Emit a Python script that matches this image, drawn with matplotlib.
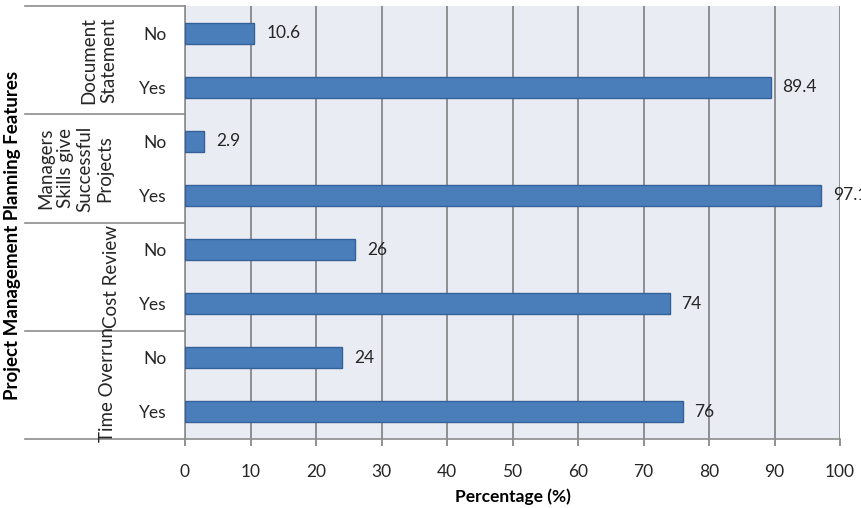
import matplotlib.pyplot as plt
import matplotlib.transforms as mtransforms

plt.rcParams['font.family'] = ['Lato', 'DejaVu Sans']

# data, top to bottom
groups = ['Document\nStatement', 'Managers\nSkills give\nSuccessful\nProjects',
          'Cost Review', 'Time Overrun']
answers = ['No', 'Yes', 'No', 'Yes', 'No', 'Yes', 'No', 'Yes']
values = [10.6, 89.4, 2.9, 97.1, 26, 74, 24, 76]
value_labels = ['10.6', '89.4', '2.9', '97.1', '26', '74', '24', '76']
xticks = [0, 10, 20, 30, 40, 50, 60, 70, 80, 90, 100]

fig = plt.figure(figsize=(8.61, 5.08), dpi=100)
ax = fig.add_axes([185/861, 1 - 439/508, 655/861, 433/508])
ax.set_facecolor('#e9edf3')

ypos = list(range(len(values)))
ax.barh(ypos, values, height=0.39, color='#4a7ebb', edgecolor='#36609a',
        linewidth=1.0, zorder=3)

# value labels (the last one runs off the edge, as in the original)
for y, v, lab in zip(ypos, values, value_labels):
    ax.annotate(lab, (v, y), xytext=(8.5, 0), textcoords='offset points',
                va='center', ha='left', fontsize=12.5, color='#262626',
                annotation_clip=False)

ax.set_xlim(0, 100)
ax.set_ylim(len(values) - 0.5, -0.5)
ax.set_xticks(xticks)
ax.set_xticklabels([str(t) for t in xticks], fontsize=12.5, color='#262626')
ax.set_yticks(ypos)
ax.set_yticklabels(answers, fontsize=12.5, color='#262626')
ax.tick_params(axis='y', length=0, pad=13)
ax.tick_params(axis='x', length=5, width=1.2, color='#7f7f7f', pad=13)
ax.grid(axis='x', color='#7f7f7f', linewidth=1.2, zorder=1)
ax.set_axisbelow(True)

for s in ['top', 'right']:
    ax.spines[s].set_visible(False)
for s in ['left', 'bottom']:
    ax.spines[s].set_color('#8c8c8c')
    ax.spines[s].set_linewidth(1.2)

# group boxes on the left
trans = mtransforms.blended_transform_factory(ax.transAxes, ax.transData)
for b in [-0.5, 1.5, 3.5, 5.5, 7.5]:
    ax.plot([-0.245, 0], [b, b], transform=trans, color='#8c8c8c',
            linewidth=1.2, clip_on=False)

group_x = [-0.132, -0.168, -0.112, -0.118]
for i, g in enumerate(groups):
    ax.text(group_x[i], 2*i + 0.5, g, transform=trans, rotation=90,
            ha='center', va='center', fontsize=13.5, color='#262626',
            linespacing=1.2, multialignment='center')

ax.set_xlabel('Percentage (%)', fontsize=12.5, fontweight='bold', labelpad=6)
fig.text(13/861, 1 - 235/508, 'Project Management Planning Features',
         rotation=90, ha='center', va='center', fontsize=13.5, fontweight='bold')

fig.savefig('out.png', dpi=100)
